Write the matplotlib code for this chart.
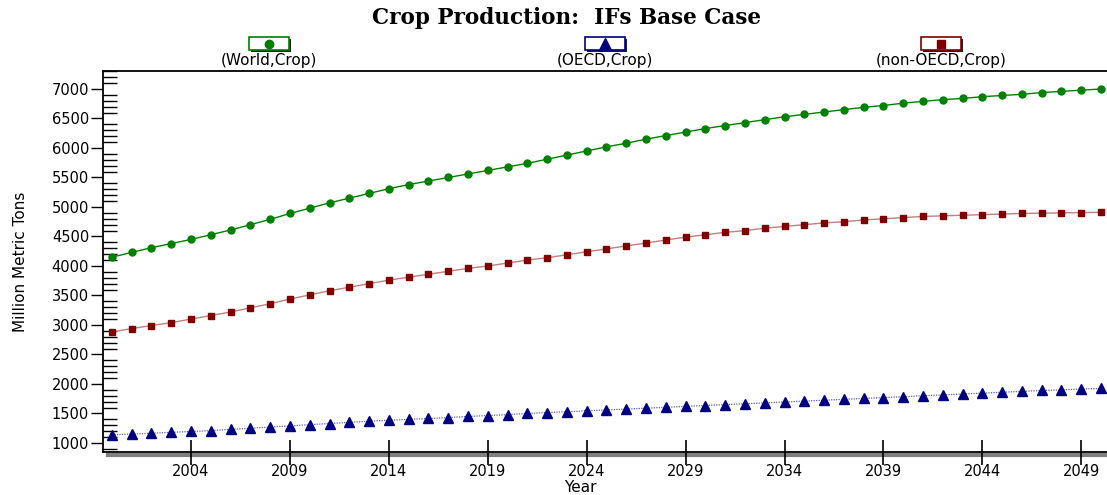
import numpy as np
import matplotlib
matplotlib.use("Agg")
import matplotlib.pyplot as plt
from matplotlib.patches import Rectangle
from matplotlib.lines import Line2D

# =============================================================================
# * Data
# =============================================================================

years = list(range(2000, 2051))

world = [4150, 4230, 4310, 4380, 4450, 4530, 4610, 4700, 4790, 4890,
         4980, 5070, 5150, 5230, 5310, 5380, 5440, 5500, 5560, 5620,
         5680, 5740, 5810, 5880, 5950, 6020, 6080, 6150, 6210, 6270,
         6330, 6380, 6430, 6480, 6530, 6570, 6610, 6650, 6690, 6720,
         6760, 6790, 6820, 6840, 6870, 6890, 6910, 6940, 6960, 6980, 7000]

oecd = [1140, 1150, 1165, 1180, 1195, 1210, 1230, 1250, 1270, 1290,
        1310, 1330, 1350, 1370, 1385, 1400, 1415, 1430, 1450, 1465,
        1480, 1500, 1515, 1530, 1545, 1560, 1575, 1590, 1605, 1620,
        1635, 1650, 1665, 1680, 1695, 1710, 1725, 1740, 1755, 1770,
        1785, 1800, 1815, 1830, 1845, 1860, 1875, 1890, 1900, 1915, 1925]

non_oecd = [2880, 2940, 2990, 3040, 3100, 3160, 3220, 3290, 3360, 3440,
            3510, 3580, 3640, 3700, 3760, 3810, 3860, 3910, 3960, 4000,
            4050, 4100, 4140, 4190, 4240, 4290, 4340, 4390, 4440, 4490,
            4530, 4570, 4600, 4640, 4670, 4700, 4730, 4750, 4780, 4800,
            4820, 4840, 4850, 4860, 4870, 4880, 4890, 4895, 4900, 4905, 4910]

series_labels = ["(World,Crop)", "(OECD,Crop)", "(non-OECD,Crop)"]
x_ticks = [2004, 2009, 2014, 2019, 2024, 2029, 2034, 2039, 2044, 2049]
y_ticks = list(range(1000, 7001, 500))

GREEN = "#008000"
NAVY = "#000080"
MAROON = "#800000"

plt.rcParams['font.family'] = ['DejaVu Sans']

fig = plt.figure(figsize=(11.07, 4.95), dpi=100)
ax = fig.add_axes([103 / 1107, 1 - 452 / 495, 1 - 103 / 1107, (452 - 71) / 495])

# lines
ax.plot(years, world, color=GREEN, lw=1.0, zorder=2)
ax.plot(years, world, ls='none', marker='o', ms=5, color=GREEN, zorder=3)
ax.plot(years, non_oecd, color="#c08080", lw=1.0, zorder=2)
ax.plot(years, non_oecd, ls='none', marker='s', ms=4.8, color=MAROON, zorder=3)
ax.plot(years, oecd, color="#6060b0", lw=0.9, ls=(0, (1, 1)), zorder=2)
ax.plot(years, oecd, ls='none', marker='^', ms=6.5, color=NAVY, zorder=3)

ax.set_xlim(1999.55, 2050.3)
ax.set_ylim(847, 7305)

ax.set_xticks(x_ticks)
ax.set_yticks(y_ticks)
ax.set_yticks(range(900, 7301, 100), minor=True)
ax.tick_params(axis='y', which='major', direction='out', length=9, width=1, labelsize=10.5, pad=1)
ax.tick_params(axis='y', which='minor', direction='in', length=10, width=1)
ax.tick_params(axis='x', which='major', direction='inout', length=18, width=1.2, labelsize=10.5, pad=0)

for s in ['left', 'top', 'bottom']:
    ax.spines[s].set_linewidth(1.3)
ax.spines['right'].set_visible(False)

# grey shadow under the x axis
ax.add_line(Line2D([0.005, 1.0], [-0.008, -0.008], transform=ax.transAxes,
                   color="#808080", lw=3, clip_on=False, zorder=1))

ax.set_ylabel("Million Metric Tons", fontsize=11, labelpad=17)
fig.text(580 / 1107, 1 - 487 / 495, "Year", ha='center', va='center', fontsize=11)

fig.text(567 / 1107, 0.963, "Crop Production:  IFs Base Case", ha='center', va='center',
         fontsize=15.5, fontweight='bold', family=['DejaVu Serif'])

# legend items drawn as small framed boxes
legend_x = [269, 605, 941]
legend_colors = [GREEN, NAVY, MAROON]
legend_markers = ['o', '^', 's']
legend_ms = [6, 8, 6]
for lx, lab, c, m, ms in zip(legend_x, series_labels, legend_colors, legend_markers, legend_ms):
    w, h = 40, 13
    x0 = lx / 1107 - w / 2 / 1107
    y0 = 1 - 50 / 495
    fig.patches.append(Rectangle((x0 + 2 / 1107, y0 - 2 / 495), w / 1107, h / 495,
                                 transform=fig.transFigure, facecolor='#202020', edgecolor='none'))
    fig.patches.append(Rectangle((x0, y0), w / 1107, h / 495, transform=fig.transFigure,
                                 facecolor='white', edgecolor=c, lw=1.2))
    fig.lines.append(Line2D([lx / 1107], [y0 + h / 2 / 495], transform=fig.transFigure,
                            marker=m, ms=ms, color=c, ls='none'))
    fig.text(lx / 1107, 1 - 60 / 495, lab, ha='center', va='center', fontsize=11)

fig.savefig("out.png", dpi=100)
